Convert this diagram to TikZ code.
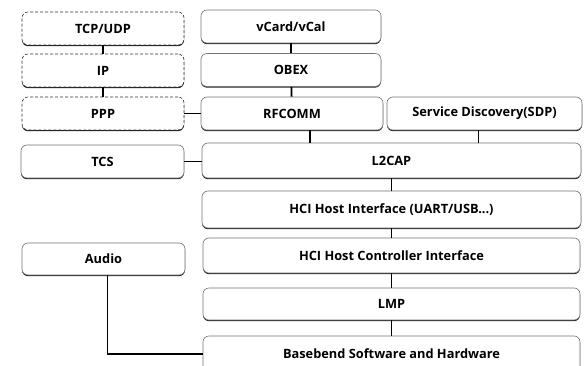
\documentclass[tikz,border=0pt]{standalone}
\usepackage{fontspec}
\setmainfont{Open Sans}
\usetikzlibrary{shadows}

\tikzset{
  layer/.style={draw=black!55, fill=white, rounded corners=6pt, line width=0.6pt,
    font=\bfseries\fontsize{12.8}{14}\selectfont, inner sep=0pt,
    drop shadow={shadow xshift=0pt, shadow yshift=-1.2pt, fill=black!85, opacity=1}},
  netlayer/.style={layer, densely dashed, draw=black!80},
  link/.style={draw=black, line width=1.8pt}
}

\begin{document}
\begin{tikzpicture}[x=1pt, y=-1pt]
  \clip (0,0) rectangle (587,366);
  % left stack
  \node[netlayer, minimum width=162, minimum height=33] (tcp) at (103,28.5) {TCP/UDP};
  \node[netlayer, minimum width=162, minimum height=33] (ip) at (103,70.5) {IP};
  \node[netlayer, minimum width=162, minimum height=33] (ppp) at (103,113.5) {PPP};
  \node[layer, minimum width=163, minimum height=33] (tcs) at (102.5,161.5) {TCS};
  \node[layer, minimum width=163, minimum height=32] (audio) at (103.5,259) {Audio};
  % right stack
  \node[layer, minimum width=180, minimum height=33] (vcard) at (291,26.5) {vCard/vCal};
  \node[layer, minimum width=180, minimum height=33] (obex) at (291,70) {OBEX};
  \node[layer, minimum width=182, minimum height=33] (rfcomm) at (292,113.5) {RFCOMM};
  \node[layer, minimum width=195, minimum height=33] (sdp) at (484.5,113.5) {Service Discovery(SDP)};
  \node[layer, minimum width=379, minimum height=35] (l2cap) at (391.5,160.5) {L2CAP};
  \node[layer, minimum width=379, minimum height=37] (hcihi) at (391.5,209.5) {HCI Host Interface (UART/USB...)};
  \node[layer, minimum width=377, minimum height=35] (hcihc) at (391.5,255.5) {HCI Host Controller Interface};
  \node[layer, minimum width=377, minimum height=32] (lmp) at (391.5,304) {LMP};
  \node[layer, minimum width=377, minimum height=36] (base) at (391.5,354) {Basebend Software and Hardware};

  \draw[link] (tcp) -- (ip);
  \draw[link] (ip) -- (ppp);
  \draw[link] (vcard) -- (obex);
  \draw[link] (obex) -- (rfcomm);
  \draw[link] (ppp.east) -- (rfcomm.west);
  \draw[link] ([xshift=18]rfcomm.south) -- ([xshift=18]rfcomm.south |- l2cap.north);
  \draw[link] ([xshift=-6]sdp.south) -- ([xshift=-6]sdp.south |- l2cap.north);
  \draw[link] (tcs.east) -- (l2cap.west |- tcs.east);
  \draw[link] (l2cap) -- (hcihi);
  \draw[link] (hcihi) -- (hcihc);
  \draw[link] (hcihc) -- (lmp);
  \draw[link] (lmp) -- (base);
  \draw[link] ([xshift=4]audio.south) |- (base.west);
\end{tikzpicture}
\end{document}
